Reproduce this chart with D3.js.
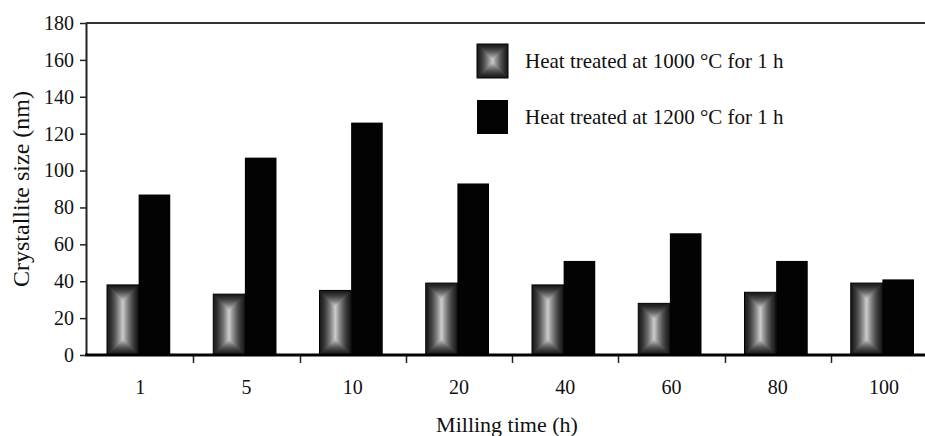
<!DOCTYPE html>
<html>
<head>
<meta charset="utf-8">
<script src="https://cdn.jsdelivr.net/npm/d3@7"></script>
<style>
  body { margin: 0; background: #fff; }
  svg { display: block; }
  text { font-family: "Liberation Serif", "Times New Roman", serif; fill: #111; }
</style>
</head>
<body>
<svg id="chart" width="925" height="436"></svg>
<script>
// Milling time categories (h)
const millingTimes = ["1", "5", "10", "20", "40", "60", "80", "100"];
// Crystallite size (nm) after heat treatment at 1000 °C for 1 h
const size1000 = [38, 33, 35, 39, 38, 28, 34, 39];
// Crystallite size (nm) after heat treatment at 1200 °C for 1 h
const size1200 = [87, 107, 126, 93, 51, 66, 51, 41];
// Y-axis tick labels
const yTicks = [0, 20, 40, 60, 80, 100, 120, 140, 160, 180];
const seriesNames = ["Heat treated at 1000 °C for 1 h", "Heat treated at 1200 °C for 1 h"];
const yTitle = "Crystallite size (nm)";
const xTitle = "Milling time (h)";

const svg = d3.select("#chart");
const W = 925;
const plot = { left: 86, top: 23, bottom: 355, right: 937 };

const x = d3.scaleBand().domain(millingTimes).range([plot.left + 1, plot.right]);
const y = d3.scaleLinear().domain([0, 180]).range([plot.bottom, plot.top]);
// Two bars side by side inside each category band
const inner = d3.scaleBand().domain([0, 1])
  .range([-1.5, x.bandwidth() - 1.5]).paddingOuter(0.68);

const shade = d3.interpolateRgb("#1e1e1e", "#d2d2d2");

// Soften the shaded fills slightly
const defs = svg.append("defs");
defs.append("filter").attr("id", "soft")
  .attr("x", "-5%").attr("y", "-5%").attr("width", "110%").attr("height", "110%")
  .append("feGaussianBlur").attr("stdDeviation", 0.7);

// Rectangular "from centre" shading: concentric insets from dark edge to light centre
function boxGradient(g, bx, by, bw, bh) {
  g.append("rect").attr("x", bx).attr("y", by).attr("width", bw).attr("height", bh)
    .attr("fill", shade(0)).attr("stroke", "#000").attr("stroke-width", 1);
  const half = Math.min(bw, bh) / 2;
  const steps = d3.range(1.5, Math.floor(half) + 1, 0.5);
  g.append("g").attr("filter", "url(#soft)")
    .selectAll(null).data(steps).join("rect")
    .attr("x", k => bx + k).attr("y", k => by + k)
    .attr("width", k => Math.max(0, bw - 2 * k))
    .attr("height", k => Math.max(0, bh - 2 * k))
    .attr("fill", k => shade(Math.pow(Math.min(1, k / half), 1.5)));
}

// Bars: 1000 °C (shaded)
const bars1000 = svg.append("g");
millingTimes.forEach((m, i) => {
  const g = bars1000.append("g");
  boxGradient(g, x(m) + inner(0), y(size1000[i]), inner.bandwidth(), y(0) - y(size1000[i]));
});

// Bars: 1200 °C (solid black)
svg.append("g").selectAll("rect").data(millingTimes).join("rect")
  .attr("x", m => x(m) + inner(1))
  .attr("y", (m, i) => y(size1200[i]))
  .attr("width", inner.bandwidth())
  .attr("height", (m, i) => y(0) - y(size1200[i]))
  .attr("fill", "#030303");

// Top frame line
svg.append("line")
  .attr("x1", plot.left).attr("x2", W).attr("y1", y(180)).attr("y2", y(180))
  .attr("stroke", "#333").attr("stroke-width", 2);

// Y axis
const yAxis = svg.append("g").attr("transform", `translate(${plot.left},0)`)
  .call(d3.axisLeft(y).tickValues(yTicks).tickSize(6).tickSizeOuter(0).tickPadding(6));
yAxis.select(".domain").attr("stroke", "#222").attr("stroke-width", 2);
yAxis.selectAll(".tick line").attr("stroke", "#222").attr("stroke-width", 1.5);
yAxis.selectAll(".tick text").style("font-family", "Liberation Serif, serif")
  .style("font-size", "20px").attr("fill", "#111");

// X axis: labels at band centres, ticks at band boundaries
const xAxis = svg.append("g").attr("transform", `translate(0,${plot.bottom})`)
  .call(d3.axisBottom(x).tickSize(0).tickSizeOuter(0).tickPadding(25));
xAxis.select(".domain").remove();
xAxis.selectAll(".tick text").style("font-family", "Liberation Serif, serif")
  .style("font-size", "20px").attr("fill", "#111");

svg.append("g").selectAll("line").data(millingTimes.slice(1)).join("line")
  .attr("x1", m => Math.round(x(m)) + 0.5).attr("x2", m => Math.round(x(m)) + 0.5)
  .attr("y1", plot.bottom).attr("y2", plot.bottom + 8)
  .attr("stroke", "#222").attr("stroke-width", 1.5);

svg.append("line")
  .attr("x1", plot.left - 1).attr("x2", W).attr("y1", y(0)).attr("y2", y(0))
  .attr("stroke", "#000").attr("stroke-width", 3);

// Axis titles
svg.append("text")
  .attr("transform", `translate(29,${(y(0) + y(180)) / 2}) rotate(-90)`)
  .attr("text-anchor", "middle")
  .style("font-size", "24px")
  .text(yTitle);

svg.append("text")
  .attr("x", 507).attr("y", 432)
  .attr("text-anchor", "middle")
  .style("font-size", "22px")
  .text(xTitle);

// Legend
const legend = svg.append("g");
const legendRows = [61, 117];
boxGradient(legend.append("g"), 477, legendRows[0] - 17, 31, 34);
legend.append("rect").attr("x", 477).attr("y", legendRows[1] - 17)
  .attr("width", 31).attr("height", 34).attr("fill", "#030303");
legend.selectAll("text").data(seriesNames).join("text")
  .attr("x", 525).attr("y", (d, i) => legendRows[i])
  .attr("dy", "0.35em")
  .style("font-size", "21px")
  .text(d => d);
</script>
</body>
</html>
